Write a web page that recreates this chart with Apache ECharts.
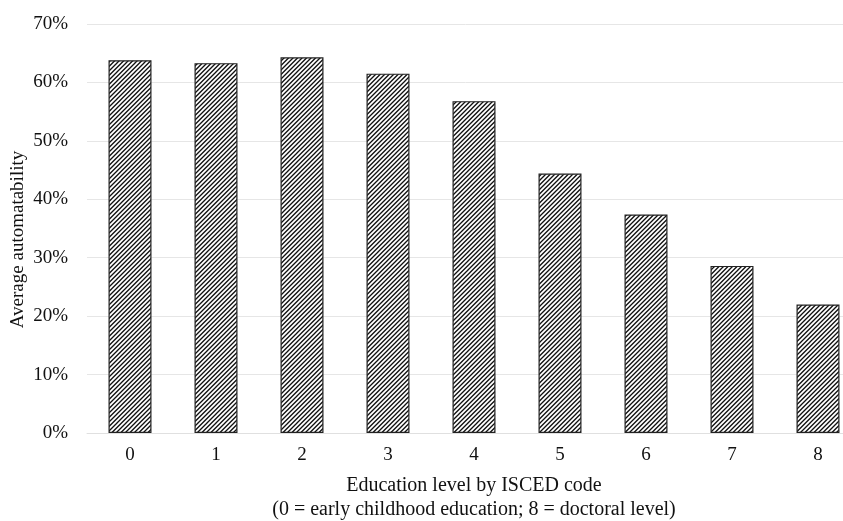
<!DOCTYPE html>
<html>
<head>
<meta charset="utf-8">
<script src="https://cdn.jsdelivr.net/npm/echarts@6/dist/echarts.min.js"></script>
<style>
html,body{margin:0;padding:0;background:#fff;overflow:hidden;}
#chart{width:843px;height:521px;}
</style>
</head>
<body>
<div id="chart"></div>
<script>
const categories = ['0','1','2','3','4','5','6','7','8'];
const automatability = [63.8, 63.3, 64.3, 61.5, 56.8, 44.4, 37.4, 28.6, 22.0];
const yTicks = [0, 10, 20, 30, 40, 50, 60, 70];
const yAxisTitle = 'Average automatability';
const xAxisTitle = 'Education level by ISCED code\n(0 = early childhood education; 8 = doctoral level)';

function hatch() {
  const s = 9;
  const c = document.createElement('canvas');
  c.width = s; c.height = s;
  const g = c.getContext('2d');
  g.fillStyle = '#ffffff';
  g.fillRect(0, 0, s, s);
  g.strokeStyle = '#111';
  g.lineWidth = 1.35;
  g.beginPath();
  for (let k = -2; k <= 2; k++) {
    const o = k * s / 2;
    g.moveTo(o - 2, s + 2);
    g.lineTo(o + s + 2, -2);
  }
  g.stroke();
  return c;
}

const font = 'Liberation Serif';
const chart = echarts.init(document.getElementById('chart'), null, {renderer: 'canvas'});
chart.setOption({
  animation: false,
  backgroundColor: '#fff',
  textStyle: {fontFamily: font},
  grid: {left: 87, top: 24, bottom: 88, width: 774, containLabel: false, outerBoundsMode: 'none'},
  xAxis: {
    type: 'category',
    data: categories,
    axisTick: {show: false},
    axisLine: {lineStyle: {color: '#e0e0e0', width: 1}},
    axisLabel: {color: '#111', fontSize: 19, fontFamily: font, margin: 13},
    name: xAxisTitle,
    nameLocation: 'middle',
    nameGap: 41,
    nameMoveOverlap: false,
    nameTextStyle: {color: '#111', fontSize: 20, fontFamily: font, lineHeight: 24}
  },
  yAxis: {
    type: 'value',
    min: yTicks[0],
    max: yTicks[yTicks.length - 1],
    interval: 10,
    axisLine: {show: false},
    axisTick: {show: false},
    splitLine: {lineStyle: {color: '#e6e6e6', width: 1}},
    axisLabel: {color: '#111', fontSize: 19, fontFamily: font, margin: 19, formatter: '{value}%'},
    name: yAxisTitle,
    nameLocation: 'middle',
    nameGap: 59,
    nameMoveOverlap: false,
    nameTextStyle: {color: '#111', fontSize: 19, fontFamily: font, padding: [0, 22, 0, 0]}
  },
  series: [{
    type: 'bar',
    data: automatability,
    barWidth: '50%',
    itemStyle: {
      color: {image: hatch(), repeat: 'repeat'},
      borderColor: '#222',
      borderWidth: 1.2
    }
  }]
});
</script>
</body>
</html>
